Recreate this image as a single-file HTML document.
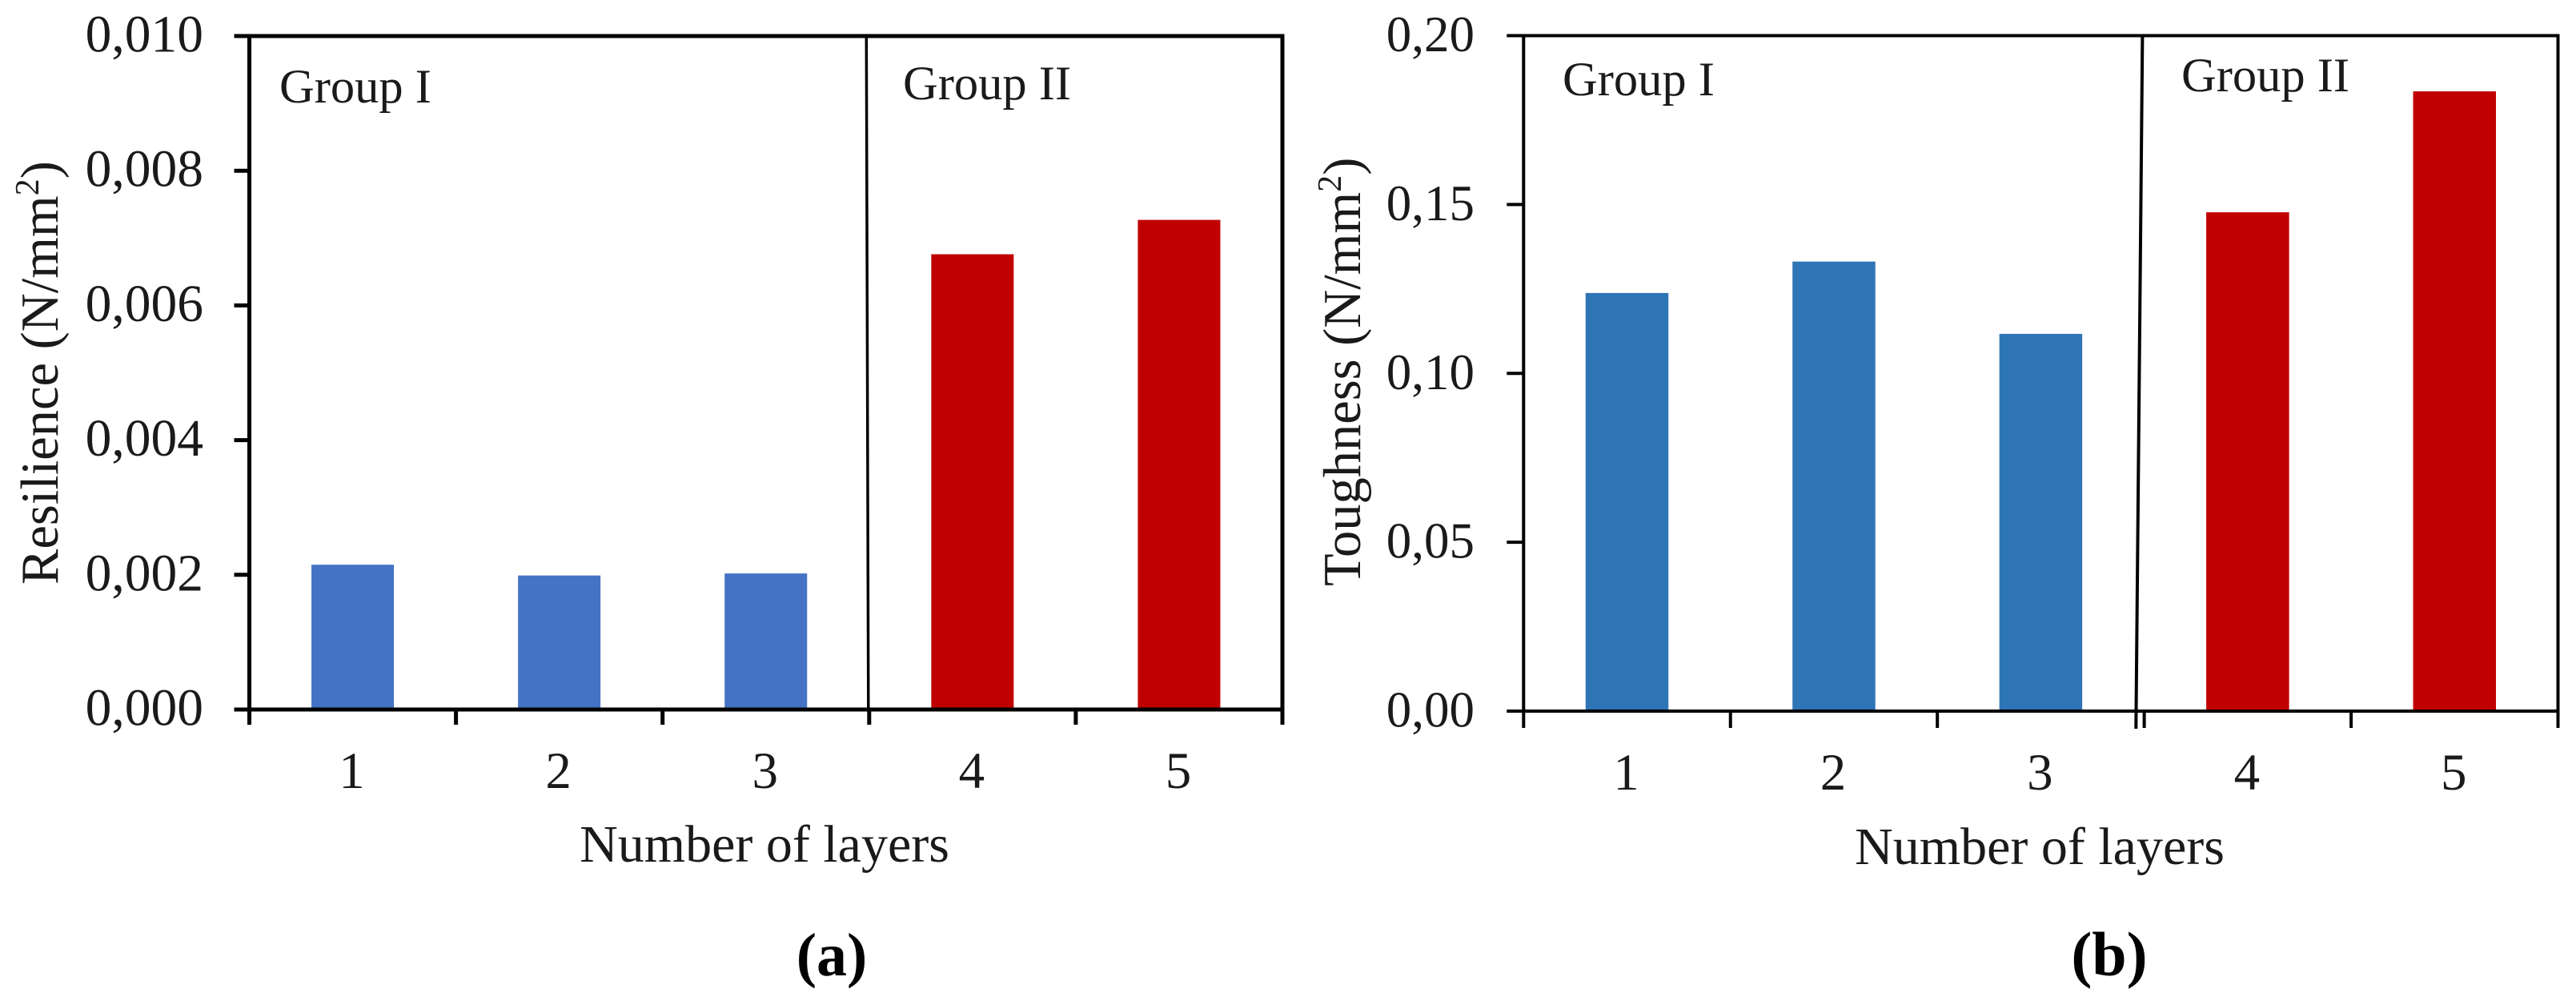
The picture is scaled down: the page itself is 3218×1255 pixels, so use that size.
<!DOCTYPE html>
<html lang="en">
<head>
<meta charset="utf-8">
<title>Resilience and toughness by number of layers</title>
<style>
html,body{margin:0;padding:0;background:#fff;width:3218px;height:1255px;overflow:hidden}
svg{display:block;font-family:"Liberation Serif",serif;fill:#1a1a1a}
</style>
</head>
<body>
<svg id="figure" xmlns="http://www.w3.org/2000/svg" width="3218" height="1255" viewBox="0 0 3218 1255">
  <rect x="0" y="0" width="3218" height="1255" fill="#fff"/>

  <g id="panel-a">
    <text transform="translate(72,730) rotate(-90)" font-size="66.5">Resilience (N/mm<tspan dy="-24" font-size="42">2</tspan><tspan dy="24">)</tspan></text>
    <text x="955" y="1076" font-size="66" text-anchor="middle">Number of layers</text>
    <text x="349" y="128" font-size="60.5">Group I</text>
    <text x="1128" y="124" font-size="60.5">Group II</text>
    <text x="1039" y="1218" font-size="76" font-weight="bold" text-anchor="middle" fill="#000">(a)</text>
  </g>

  <g id="panel-b">
    <text transform="translate(1699,732) rotate(-90)" font-size="66.5">Toughness (N/mm<tspan dy="-24" font-size="42">2</tspan><tspan dy="24">)</tspan></text>
    <text x="2548" y="1079" font-size="66" text-anchor="middle">Number of layers</text>
    <text x="1952" y="119" font-size="60.5">Group I</text>
    <text x="2725" y="114" font-size="60.5">Group II</text>
    <text x="2635" y="1218" font-size="78" font-weight="bold" text-anchor="middle" fill="#000">(b)</text>
  </g>
</svg>

<script>
const categories = ['1', '2', '3', '4', '5'];
const resilienceValues = [0.00215, 0.00199, 0.00202, 0.00676, 0.00727];
const toughnessValues = [0.1238, 0.1331, 0.1117, 0.1477, 0.1835];
const resilienceTickValues = [0, 0.002, 0.004, 0.006, 0.008, 0.01];
const resilienceTickLabels = ['0,000', '0,002', '0,004', '0,006', '0,008', '0,010'];
const toughnessTickValues = [0, 0.05, 0.1, 0.15, 0.2];
const toughnessTickLabels = ['0,00', '0,05', '0,10', '0,15', '0,20'];
const groupOneCount = 3;

const SVG_NS = 'http://www.w3.org/2000/svg';

function makeEl(parent, tag, attrs) {
  const el = document.createElementNS(SVG_NS, tag);
  for (const key in attrs) el.setAttribute(key, attrs[key]);
  parent.appendChild(el);
  return el;
}

function drawPanel(opts) {
  const g = document.getElementById(opts.groupId);
  const yScale = v => opts.bottom - (v / opts.yMax) * (opts.bottom - opts.top);
  const step = (opts.right - opts.left) / opts.categories.length;
  const xEdge = i => opts.left + i * step;
  const xCenter = i => xEdge(i) + step / 2;

  opts.values.forEach((v, i) => {
    const bar = makeEl(g, 'rect', {
      x: xCenter(i) - opts.barWidth / 2,
      y: yScale(v),
      width: opts.barWidth,
      height: opts.bottom - yScale(v),
      fill: i < groupOneCount ? opts.blue : opts.red
    });
    
    
  });

  const frame = makeEl(g, 'path', {
    d: 'M' + opts.left + ' ' + opts.top + 'H' + opts.right + 'V' + opts.bottom + 'H' + opts.left + 'Z',
    fill: 'none', stroke: '#000', 'stroke-width': opts.stroke
  });
  
  

  opts.tickValues.forEach((v, i) => {
    const y = yScale(v);
    const tick = makeEl(g, 'line', {
      x1: opts.left - opts.tickLen, x2: opts.left, y1: y, y2: y,
      stroke: '#000', 'stroke-width': opts.stroke
    });
    
    
    const label = makeEl(g, 'text', {
      x: opts.labelRight, y: y + 19.5, 'font-size': opts.tickFont, 'text-anchor': 'end'
    });
    label.textContent = opts.tickLabels[i];
    
    
  });

  for (let i = 0; i <= opts.categories.length; i++) {
    const tick = makeEl(g, 'line', {
      x1: xEdge(i), x2: xEdge(i), y1: opts.bottom, y2: opts.tickBottom,
      stroke: '#000', 'stroke-width': opts.stroke
    });
    
    
  }

  opts.categories.forEach((c, i) => {
    const label = makeEl(g, 'text', {
      x: xCenter(i) - 1, y: opts.catBaseline, 'font-size': 65, 'text-anchor': 'middle'
    });
    label.textContent = c;
    
    
  });

  const divider = makeEl(g, 'line', {
    x1: opts.dividerTop, y1: opts.top, x2: opts.dividerBottom, y2: opts.dividerEnd,
    stroke: '#000', 'stroke-width': opts.dividerStroke
  });
  
  
}

drawPanel({
  groupId: 'panel-a', suffix: 'a',
  categories: categories, values: resilienceValues,
  tickValues: resilienceTickValues, tickLabels: resilienceTickLabels, yMax: 0.01,
  left: 311.5, right: 1602, top: 45, bottom: 886, tickLen: 19, tickBottom: 905,
  labelRight: 254, tickFont: 65.5, catBaseline: 984, stroke: 5, barWidth: 103,
  blue: '#4472C4', red: '#C00000',
  dividerTop: 1082.3, dividerBottom: 1084.8, dividerEnd: 886, dividerStroke: 3.5
});

drawPanel({
  groupId: 'panel-b', suffix: 'b',
  categories: categories, values: toughnessValues,
  tickValues: toughnessTickValues, tickLabels: toughnessTickLabels, yMax: 0.2,
  left: 1903.3, right: 3195.5, top: 44.5, bottom: 888, tickLen: 21, tickBottom: 909,
  labelRight: 1842, tickFont: 63, catBaseline: 986, stroke: 4, barWidth: 103.5,
  blue: '#2E75B6', red: '#C00000',
  dividerTop: 2676.4, dividerBottom: 2668.3, dividerEnd: 910, dividerStroke: 4
});
</script>
</body>
</html>
